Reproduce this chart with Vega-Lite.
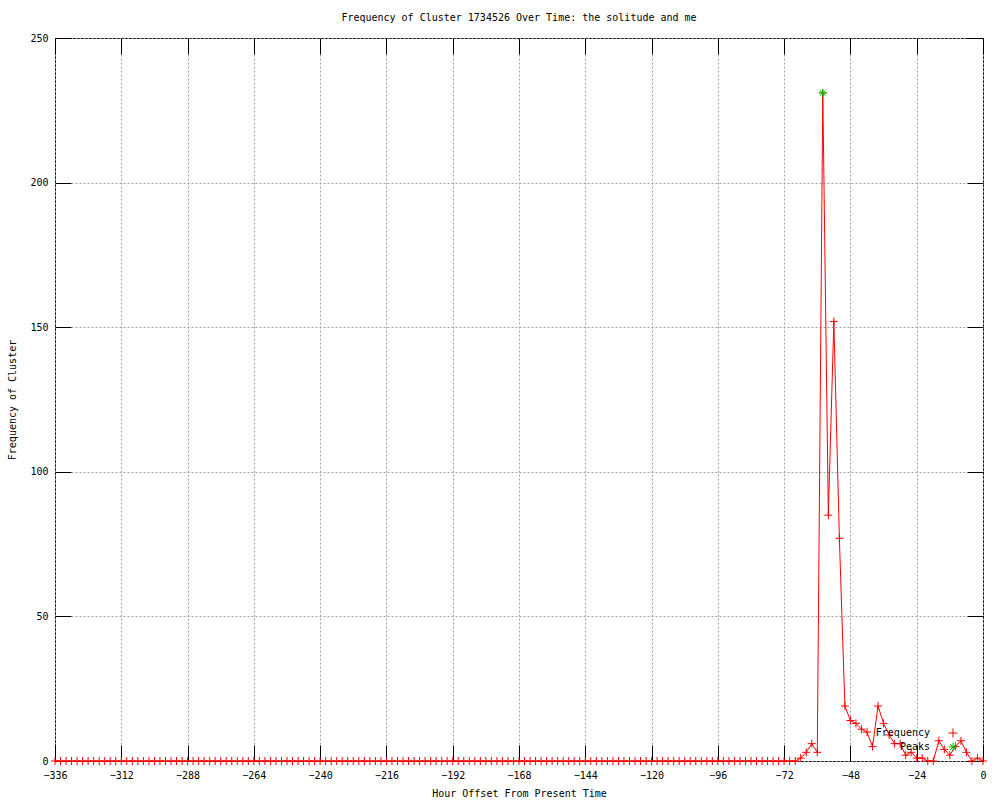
{
  "$schema": "https://vega.github.io/schema/vega-lite/v6.json",
  "width": 928,
  "height": 723,
  "autosize": {"type": "none"},
  "padding": {"left": 55, "top": 38, "right": 17, "bottom": 39},
  "background": "white",
  "title": {"text": "Frequency of Cluster 1734526 Over Time: the solitude and me", "fontSize": 10, "font": "DejaVu Sans Mono", "fontWeight": "normal", "anchor": "middle", "offset": 10, "color": "#000000"},
  "config": {
    "font": "DejaVu Sans Mono",
    "view": {"stroke": "#000000", "strokeWidth": 1},
    "axis": {"labelFont": "DejaVu Sans Mono", "labelFontSize": 10, "labelColor": "#000000", "titleFont": "DejaVu Sans Mono", "titleFontSize": 10, "titleFontWeight": "normal", "titleColor": "#000000", "tickColor": "#000000", "tickWidth": 1}
  },
  "data": {"values": [
    {"h": -336, "f": 0, "s": "Frequency"}, {"h": -334, "f": 0, "s": "Frequency"}, {"h": -332, "f": 0, "s": "Frequency"}, {"h": -330, "f": 0, "s": "Frequency"},
    {"h": -328, "f": 0, "s": "Frequency"}, {"h": -326, "f": 0, "s": "Frequency"}, {"h": -324, "f": 0, "s": "Frequency"}, {"h": -322, "f": 0, "s": "Frequency"},
    {"h": -320, "f": 0, "s": "Frequency"}, {"h": -318, "f": 0, "s": "Frequency"}, {"h": -316, "f": 0, "s": "Frequency"}, {"h": -314, "f": 0, "s": "Frequency"},
    {"h": -312, "f": 0, "s": "Frequency"}, {"h": -310, "f": 0, "s": "Frequency"}, {"h": -308, "f": 0, "s": "Frequency"}, {"h": -306, "f": 0, "s": "Frequency"},
    {"h": -304, "f": 0, "s": "Frequency"}, {"h": -302, "f": 0, "s": "Frequency"}, {"h": -300, "f": 0, "s": "Frequency"}, {"h": -298, "f": 0, "s": "Frequency"},
    {"h": -296, "f": 0, "s": "Frequency"}, {"h": -294, "f": 0, "s": "Frequency"}, {"h": -292, "f": 0, "s": "Frequency"}, {"h": -290, "f": 0, "s": "Frequency"},
    {"h": -288, "f": 0, "s": "Frequency"}, {"h": -286, "f": 0, "s": "Frequency"}, {"h": -284, "f": 0, "s": "Frequency"}, {"h": -282, "f": 0, "s": "Frequency"},
    {"h": -280, "f": 0, "s": "Frequency"}, {"h": -278, "f": 0, "s": "Frequency"}, {"h": -276, "f": 0, "s": "Frequency"}, {"h": -274, "f": 0, "s": "Frequency"},
    {"h": -272, "f": 0, "s": "Frequency"}, {"h": -270, "f": 0, "s": "Frequency"}, {"h": -268, "f": 0, "s": "Frequency"}, {"h": -266, "f": 0, "s": "Frequency"},
    {"h": -264, "f": 0, "s": "Frequency"}, {"h": -262, "f": 0, "s": "Frequency"}, {"h": -260, "f": 0, "s": "Frequency"}, {"h": -258, "f": 0, "s": "Frequency"},
    {"h": -256, "f": 0, "s": "Frequency"}, {"h": -254, "f": 0, "s": "Frequency"}, {"h": -252, "f": 0, "s": "Frequency"}, {"h": -250, "f": 0, "s": "Frequency"},
    {"h": -248, "f": 0, "s": "Frequency"}, {"h": -246, "f": 0, "s": "Frequency"}, {"h": -244, "f": 0, "s": "Frequency"}, {"h": -242, "f": 0, "s": "Frequency"},
    {"h": -240, "f": 0, "s": "Frequency"}, {"h": -238, "f": 0, "s": "Frequency"}, {"h": -236, "f": 0, "s": "Frequency"}, {"h": -234, "f": 0, "s": "Frequency"},
    {"h": -232, "f": 0, "s": "Frequency"}, {"h": -230, "f": 0, "s": "Frequency"}, {"h": -228, "f": 0, "s": "Frequency"}, {"h": -226, "f": 0, "s": "Frequency"},
    {"h": -224, "f": 0, "s": "Frequency"}, {"h": -222, "f": 0, "s": "Frequency"}, {"h": -220, "f": 0, "s": "Frequency"}, {"h": -218, "f": 0, "s": "Frequency"},
    {"h": -216, "f": 0, "s": "Frequency"}, {"h": -214, "f": 0, "s": "Frequency"}, {"h": -212, "f": 0, "s": "Frequency"}, {"h": -210, "f": 0, "s": "Frequency"},
    {"h": -208, "f": 0, "s": "Frequency"}, {"h": -206, "f": 0, "s": "Frequency"}, {"h": -204, "f": 0, "s": "Frequency"}, {"h": -202, "f": 0, "s": "Frequency"},
    {"h": -200, "f": 0, "s": "Frequency"}, {"h": -198, "f": 0, "s": "Frequency"}, {"h": -196, "f": 0, "s": "Frequency"}, {"h": -194, "f": 0, "s": "Frequency"},
    {"h": -192, "f": 0, "s": "Frequency"}, {"h": -190, "f": 0, "s": "Frequency"}, {"h": -188, "f": 0, "s": "Frequency"}, {"h": -186, "f": 0, "s": "Frequency"},
    {"h": -184, "f": 0, "s": "Frequency"}, {"h": -182, "f": 0, "s": "Frequency"}, {"h": -180, "f": 0, "s": "Frequency"}, {"h": -178, "f": 0, "s": "Frequency"},
    {"h": -176, "f": 0, "s": "Frequency"}, {"h": -174, "f": 0, "s": "Frequency"}, {"h": -172, "f": 0, "s": "Frequency"}, {"h": -170, "f": 0, "s": "Frequency"},
    {"h": -168, "f": 0, "s": "Frequency"}, {"h": -166, "f": 0, "s": "Frequency"}, {"h": -164, "f": 0, "s": "Frequency"}, {"h": -162, "f": 0, "s": "Frequency"},
    {"h": -160, "f": 0, "s": "Frequency"}, {"h": -158, "f": 0, "s": "Frequency"}, {"h": -156, "f": 0, "s": "Frequency"}, {"h": -154, "f": 0, "s": "Frequency"},
    {"h": -152, "f": 0, "s": "Frequency"}, {"h": -150, "f": 0, "s": "Frequency"}, {"h": -148, "f": 0, "s": "Frequency"}, {"h": -146, "f": 0, "s": "Frequency"},
    {"h": -144, "f": 0, "s": "Frequency"}, {"h": -142, "f": 0, "s": "Frequency"}, {"h": -140, "f": 0, "s": "Frequency"}, {"h": -138, "f": 0, "s": "Frequency"},
    {"h": -136, "f": 0, "s": "Frequency"}, {"h": -134, "f": 0, "s": "Frequency"}, {"h": -132, "f": 0, "s": "Frequency"}, {"h": -130, "f": 0, "s": "Frequency"},
    {"h": -128, "f": 0, "s": "Frequency"}, {"h": -126, "f": 0, "s": "Frequency"}, {"h": -124, "f": 0, "s": "Frequency"}, {"h": -122, "f": 0, "s": "Frequency"},
    {"h": -120, "f": 0, "s": "Frequency"}, {"h": -118, "f": 0, "s": "Frequency"}, {"h": -116, "f": 0, "s": "Frequency"}, {"h": -114, "f": 0, "s": "Frequency"},
    {"h": -112, "f": 0, "s": "Frequency"}, {"h": -110, "f": 0, "s": "Frequency"}, {"h": -108, "f": 0, "s": "Frequency"}, {"h": -106, "f": 0, "s": "Frequency"},
    {"h": -104, "f": 0, "s": "Frequency"}, {"h": -102, "f": 0, "s": "Frequency"}, {"h": -100, "f": 0, "s": "Frequency"}, {"h": -98, "f": 0, "s": "Frequency"},
    {"h": -96, "f": 0, "s": "Frequency"}, {"h": -94, "f": 0, "s": "Frequency"}, {"h": -92, "f": 0, "s": "Frequency"}, {"h": -90, "f": 0, "s": "Frequency"},
    {"h": -88, "f": 0, "s": "Frequency"}, {"h": -86, "f": 0, "s": "Frequency"}, {"h": -84, "f": 0, "s": "Frequency"}, {"h": -82, "f": 0, "s": "Frequency"},
    {"h": -80, "f": 0, "s": "Frequency"}, {"h": -78, "f": 0, "s": "Frequency"}, {"h": -76, "f": 0, "s": "Frequency"}, {"h": -74, "f": 0, "s": "Frequency"},
    {"h": -72, "f": 0, "s": "Frequency"}, {"h": -70, "f": 0, "s": "Frequency"}, {"h": -68, "f": 0, "s": "Frequency"}, {"h": -66, "f": 1, "s": "Frequency"},
    {"h": -64, "f": 3, "s": "Frequency"}, {"h": -62, "f": 6, "s": "Frequency"}, {"h": -60, "f": 3, "s": "Frequency"}, {"h": -58, "f": 231, "s": "Frequency"},
    {"h": -56, "f": 85, "s": "Frequency"}, {"h": -54, "f": 152, "s": "Frequency"}, {"h": -52, "f": 77, "s": "Frequency"}, {"h": -50, "f": 19, "s": "Frequency"},
    {"h": -48, "f": 14, "s": "Frequency"}, {"h": -46, "f": 13, "s": "Frequency"}, {"h": -44, "f": 11, "s": "Frequency"}, {"h": -42, "f": 10, "s": "Frequency"},
    {"h": -40, "f": 5, "s": "Frequency"}, {"h": -38, "f": 19, "s": "Frequency"}, {"h": -36, "f": 13, "s": "Frequency"}, {"h": -34, "f": 9, "s": "Frequency"},
    {"h": -32, "f": 6, "s": "Frequency"}, {"h": -30, "f": 6, "s": "Frequency"}, {"h": -28, "f": 2, "s": "Frequency"}, {"h": -26, "f": 3, "s": "Frequency"},
    {"h": -24, "f": 1, "s": "Frequency"}, {"h": -22, "f": 1, "s": "Frequency"}, {"h": -20, "f": 0, "s": "Frequency"}, {"h": -18, "f": 0, "s": "Frequency"},
    {"h": -16, "f": 7, "s": "Frequency"}, {"h": -14, "f": 4, "s": "Frequency"}, {"h": -12, "f": 2, "s": "Frequency"}, {"h": -10, "f": 5, "s": "Frequency"},
    {"h": -8, "f": 7, "s": "Frequency"}, {"h": -6, "f": 3, "s": "Frequency"}, {"h": -4, "f": 0, "s": "Frequency"}, {"h": -2, "f": 1, "s": "Frequency"},
    {"h": 0, "f": 0, "s": "Frequency"},
    {"h": -58, "f": 231, "s": "Peaks"}
  ]},
  "layer": [
    {
      "transform": [{"filter": "datum.s === 'Frequency'"}],
      "mark": {"type": "line", "color": "#ff0000", "strokeWidth": 1},
      "encoding": {
        "x": {"field": "h", "type": "quantitative", "scale": {"domain": [-336, 0], "nice": false, "zero": false},
          "axis": {"orient": "bottom", "values": [-336, -312, -288, -264, -240, -216, -192, -168, -144, -120, -96, -72, -48, -24, 0], "title": "Hour Offset From Present Time", "grid": true, "gridColor": "#a0a0a0", "gridDash": [2, 2], "ticks": false, "domain": false, "labelPadding": 9, "titlePadding": 8, "labelFlush": false}},
        "y": {"field": "f", "type": "quantitative", "scale": {"domain": [0, 250], "nice": false},
          "axis": {"orient": "left", "values": [0, 50, 100, 150, 200, 250], "title": "Frequency of Cluster", "grid": true, "gridColor": "#a0a0a0", "gridDash": [2, 2], "ticks": false, "domain": false, "labelPadding": 7, "titlePadding": 12, "labelFlush": false}}
      }
    },
    {
      "mark": {"type": "point", "filled": false, "strokeWidth": 1, "size": 64, "opacity": 1},
      "encoding": {
        "x": {"field": "h", "type": "quantitative",
          "axis": {"orient": "bottom", "values": [-336, -312, -288, -264, -240, -216, -192, -168, -144, -120, -96, -72, -48, -24, 0], "title": null, "grid": false, "labels": false, "domain": false, "ticks": true, "tickSize": 16, "offset": -16}},
        "y": {"field": "f", "type": "quantitative",
          "axis": {"orient": "left", "values": [0, 50, 100, 150, 200, 250], "title": null, "grid": false, "labels": false, "domain": false, "ticks": true, "tickSize": 16, "offset": -16}},
        "color": {"field": "s", "type": "nominal", "scale": {"domain": ["Frequency", "Peaks"], "range": ["#ff0000", "#00c000"]},
          "legend": {"title": null, "orient": "none", "legendX": 893, "legendY": 690, "padding": 0, "symbolSize": 81, "rowPadding": 0, "labelAlign": "right", "labelOffset": -28, "labelFont": "DejaVu Sans Mono", "labelFontSize": 10, "labelColor": "#000000", "symbolStrokeWidth": 1,
            "encode": {"symbols": {"update": {"shape": {"signal": "datum.value === 'Peaks' ? 'M-1,0H1M0,-1V1M-0.7,-0.7L0.7,0.7M-0.7,0.7L0.7,-0.7' : 'M-3.5,0H3.5M0,-1V1'"}, "stroke": {"signal": "datum.value === 'Peaks' ? '#00c000' : '#ff0000'"}, "fill": {"value": "transparent"}, "strokeWidth": {"value": 1}, "opacity": {"value": 1}}}}}},
        "shape": {"field": "s", "type": "nominal", "scale": {"domain": ["Frequency", "Peaks"], "range": ["M-1,0H1M0,-1V1", "M-1,0H1M0,-1V1M-0.7,-0.7L0.7,0.7M-0.7,0.7L0.7,-0.7"]},
          "legend": {"title": null, "orient": "none", "legendX": 893, "legendY": 690, "padding": 0, "symbolSize": 81, "rowPadding": 0, "labelAlign": "right", "labelOffset": -28, "labelFont": "DejaVu Sans Mono", "labelFontSize": 10, "labelColor": "#000000", "symbolStrokeWidth": 1,
            "encode": {"symbols": {"update": {"shape": {"signal": "datum.value === 'Peaks' ? 'M-1,0H1M0,-1V1M-0.7,-0.7L0.7,0.7M-0.7,0.7L0.7,-0.7' : 'M-3.5,0H3.5M0,-1V1'"}, "stroke": {"signal": "datum.value === 'Peaks' ? '#00c000' : '#ff0000'"}, "fill": {"value": "transparent"}, "strokeWidth": {"value": 1}, "opacity": {"value": 1}}}}}}
      }
    },
    {
      "mark": {"type": "point", "opacity": 0},
      "encoding": {
        "x": {"field": "h", "type": "quantitative",
          "axis": {"orient": "top", "values": [-336, -312, -288, -264, -240, -216, -192, -168, -144, -120, -96, -72, -48, -24, 0], "title": null, "grid": false, "labels": false, "domain": false, "ticks": true, "tickSize": 16, "offset": -16}},
        "y": {"field": "f", "type": "quantitative",
          "axis": {"orient": "right", "values": [0, 50, 100, 150, 200, 250], "title": null, "grid": false, "labels": false, "domain": false, "ticks": true, "tickSize": 16, "offset": -16}}
      }
    }
  ],
  "resolve": {"axis": {"x": "independent", "y": "independent"}}
}
